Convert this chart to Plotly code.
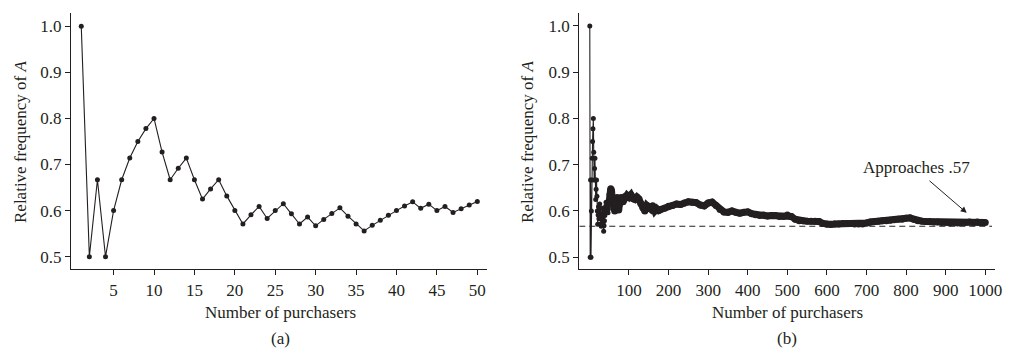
import plotly.graph_objects as go

# ---- Panel (a): first 50 purchasers ----
n_a = list(range(1, 51))
freq_a = [1.0, 0.5, 0.667, 0.5, 0.6, 0.667, 0.714, 0.75, 0.778, 0.8,
          0.727, 0.667, 0.692, 0.714, 0.667, 0.625, 0.647, 0.667, 0.632, 0.6,
          0.571, 0.591, 0.609, 0.583, 0.6, 0.615, 0.593, 0.571, 0.586, 0.567,
          0.581, 0.594, 0.606, 0.588, 0.571, 0.556, 0.568, 0.579, 0.590, 0.6,
          0.610, 0.619, 0.605, 0.614, 0.6, 0.609, 0.596, 0.604, 0.612, 0.62]

# ---- Panel (b): continuation up to 1000 purchasers ----
n_b = [50, 52, 54, 56, 58, 60, 62, 64, 66, 68, 70, 72, 74, 76, 78, 80, 85, 90, 95,
       100, 105, 110, 115, 120, 125, 130, 135, 140, 145, 150, 155, 160, 165, 170,
       175, 180, 190, 200, 210, 220, 230, 240, 250, 260, 270, 280, 290, 300, 310,
       320, 330, 340, 350, 360, 370, 380, 390, 400, 410, 420, 430, 440, 450, 460,
       470, 480, 490, 500, 510, 520, 530, 540, 550, 560, 570, 580, 590, 600, 610,
       620, 630, 640, 650, 660, 670, 680, 690, 700, 710, 720, 730, 740, 750, 760,
       770, 780, 790, 800, 810, 820, 830, 840, 850, 860, 870, 880, 890, 900, 910,
       920, 930, 940, 950, 960, 970, 980, 990, 1000]
freq_b = [0.620, 0.635, 0.648, 0.643, 0.621, 0.617, 0.613, 0.600, 0.606, 0.618,
          0.629, 0.611, 0.602, 0.615, 0.627, 0.629, 0.620, 0.631, 0.634,
          0.630, 0.635, 0.627, 0.625, 0.630, 0.626, 0.616, 0.607, 0.600, 0.612,
          0.610, 0.604, 0.611, 0.600, 0.605, 0.601, 0.603, 0.606, 0.610, 0.612,
          0.615, 0.614, 0.617, 0.620, 0.619, 0.618, 0.613, 0.611, 0.617, 0.619,
          0.612, 0.603, 0.598, 0.597, 0.600, 0.597, 0.595, 0.597, 0.598, 0.594,
          0.592, 0.590, 0.591, 0.589, 0.590, 0.590, 0.588, 0.588, 0.591, 0.588,
          0.582, 0.579, 0.579, 0.578, 0.578, 0.578, 0.577, 0.573, 0.571, 0.571,
          0.572, 0.572, 0.573, 0.573, 0.573, 0.572, 0.572, 0.572, 0.574, 0.576,
          0.577, 0.578, 0.579, 0.579, 0.580, 0.581, 0.582, 0.582, 0.584, 0.585,
          0.582, 0.579, 0.578, 0.577, 0.577, 0.576, 0.576, 0.575, 0.575, 0.574,
          0.575, 0.574, 0.575, 0.575, 0.576, 0.575, 0.576, 0.575, 0.575]

limit_value = 0.567
ticks_a = [5, 10, 15, 20, 25, 30, 35, 40, 45, 50]
ticks_b = [100, 200, 300, 400, 500, 600, 700, 800, 900, 1000]
ticks_y = [0.5, 0.6, 0.7, 0.8, 0.9, 1.0]

OFF = 8               # page body margin
W, H = 1021 - OFF, 355 - OFF
INK = "#231f20"
FONT = "Liberation Serif"
FS = 17

def px_x(p):
    return (p - OFF) / W

def px_y(p):
    return 1 - (p - OFF) / H

fig = go.Figure()

# Panel (a)
fig.add_trace(go.Scatter(x=n_a, y=freq_a, mode="lines+markers",
                         line=dict(color=INK, width=1.1),
                         marker=dict(color=INK, size=5),
                         xaxis="x", yaxis="y", showlegend=False))

# Panel (b)
fig.add_trace(go.Scatter(x=n_b, y=freq_b, mode="lines+markers",
                         line=dict(color=INK, width=7),
                         marker=dict(color=INK, size=7),
                         xaxis="x2", yaxis="y2", showlegend=False))
fig.add_trace(go.Scatter(x=n_a, y=freq_a, mode="lines+markers",
                         line=dict(color=INK, width=1.1),
                         marker=dict(color=INK, size=5),
                         xaxis="x2", yaxis="y2", showlegend=False))

axis_common = dict(showline=True, linecolor=INK, linewidth=1.2, ticks="outside",
                   ticklen=5, tickwidth=1.1, tickcolor=INK, showgrid=False,
                   zeroline=False, tickfont=dict(family=FONT, size=FS, color=INK),
                   automargin=False)

fig.update_layout(
    width=W, height=H,
    margin=dict(l=0, r=0, t=0, b=0),
    paper_bgcolor="white", plot_bgcolor="white",
    xaxis=dict(domain=[px_x(71), px_x(487)], range=[-0.27, 51.2],
               tickvals=ticks_a, anchor="y", **axis_common),
    yaxis=dict(domain=[px_y(269), px_y(13)], range=[0.4733, 1.0289],
               tickvals=ticks_y, tickformat=".1f", anchor="x", **axis_common),
    xaxis2=dict(domain=[px_x(579.3), px_x(995.3)], range=[-25.5, 1025.3],
                tickvals=ticks_b, anchor="y2", **axis_common),
    yaxis2=dict(domain=[px_y(269), px_y(13)], range=[0.4745, 1.028],
                tickvals=ticks_y, tickformat=".1f", anchor="x2", **axis_common),
)

fig.add_shape(type="line", xref="x2", yref="y2", x0=-25.5, x1=1017,
              y0=limit_value, y1=limit_value,
              line=dict(color=INK, width=1.1, dash="6px,4px"))

txt = dict(family=FONT, size=FS, color=INK)
for cx, lab in [(280, "(a)"), (787, "(b)")]:
    fig.add_annotation(x=px_x(cx), y=px_y(312), xref="paper", yref="paper",
                       xanchor="center", yanchor="middle",
                       text="Number of purchasers", showarrow=False, font=txt)
    fig.add_annotation(x=px_x(cx), y=px_y(338), xref="paper", yref="paper",
                       xanchor="center", yanchor="middle",
                       text=lab, showarrow=False, font=txt)
for cx in [20, 527]:
    fig.add_annotation(x=px_x(cx), y=px_y(142), xref="paper", yref="paper",
                       xanchor="center", yanchor="middle",
                       text="Relative frequency of <i>A</i>", textangle=-90,
                       showarrow=False, font=txt)

fig.add_annotation(x=826.7, y=0.6947, xref="x2", yref="y2", text="Approaches .57",
                   xanchor="center", yanchor="middle",
                   showarrow=False, font=txt)
fig.add_annotation(x=953, y=0.596, xref="x2", yref="y2", text="",
                   showarrow=True, ax=-38.7, ay=-33.3, arrowhead=2,
                   arrowsize=1.2, arrowwidth=1, arrowcolor=INK)

fig.write_html("out.html")
